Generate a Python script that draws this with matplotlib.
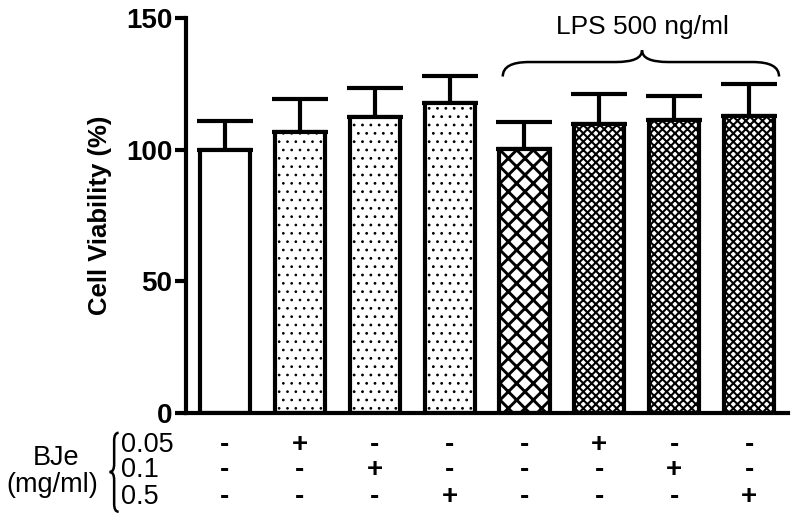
'''
Cell viability with BJe and LPS
'''
import numpy as np
import matplotlib
matplotlib.use('Agg')
import matplotlib.pyplot as plt
from matplotlib.path import Path
from matplotlib.patches import PathPatch

plt.rcParams['font.family'] = ['Liberation Sans', 'DejaVu Sans']

viability = [100, 106.7, 112.4, 117.7, 100.3, 109.8, 111.3, 112.8]
sem = [10.9, 12.6, 11.0, 10.3, 10.2, 11.4, 9.1, 12.2]
hatches = ['', '..', '..', '..', 'xx', 'xxxx', 'xxxx', 'xxxx']
hatch_widths = [1, 0.7, 0.8, 0.8, 2.1, 1.5, 1.5, 1.5]
dose_labels = ['0.05', '0.1', '0.5']
dose_signs = [
    ['-', '+', '-', '-', '-', '+', '-', '-'],
    ['-', '-', '+', '-', '-', '-', '+', '-'],
    ['-', '-', '-', '+', '-', '-', '-', '+'],
]

fig = plt.figure(figsize=(7.96, 5.19), dpi=100)
ax = fig.add_axes([0.2337, 0.2042, 0.7563, 0.761])

x = np.arange(len(viability))
bars = ax.bar(x, viability, width=0.67, color='white', edgecolor='black',
              linewidth=3, hatch=hatches, zorder=2)
for b, hw in zip(bars, hatch_widths):
    if hasattr(b, 'set_hatch_linewidth'):
        b.set_hatch_linewidth(hw)
ax.errorbar(x, viability, yerr=[np.zeros(len(sem)), sem], fmt='none',
            ecolor='black', elinewidth=3, capsize=20, capthick=3, zorder=1)

ax.set_xlim(-0.52, 7.52)
ax.set_ylim(0, 150)
ax.set_yticks([0, 50, 100, 150])
ax.set_xticks([])
for s in ['top', 'right']:
    ax.spines[s].set_visible(False)
for s in ['left', 'bottom']:
    ax.spines[s].set_linewidth(3)
ax.tick_params(axis='y', width=3, length=8, labelsize=20, pad=2)
for t in ax.get_yticklabels():
    t.set_fontweight('bold')
ax.set_ylabel('Cell Viability (%)', fontsize=18.5, fontweight='bold', labelpad=10)

# dose table under the axis
row_y = [-12.2, -21.8, -32]
for r, signs in enumerate(dose_signs):
    for i, s in enumerate(signs):
        ax.text(x[i], row_y[r], s, ha='center', va='center', fontsize=20,
                fontweight='bold', clip_on=False)
    ax.text(-1.39, row_y[r], dose_labels[r], ha='left', va='center',
            fontsize=19.5, clip_on=False)
ax.text(-2.25, -17, 'BJe', ha='center', va='center', fontsize=19.5, clip_on=False)
ax.text(-2.3, -27.5, '(mg/ml)', ha='center', va='center', fontsize=19.5, clip_on=False)

# left brace grouping the doses
cx, ytop, ybot, ymid = -1.48, -7.5, -37.5, -22.4
w = 0.06
verts = [(cx + w, ytop), (cx, ytop), (cx, ytop - 3),
         (cx, ymid + 3), (cx, ymid), (cx - w, ymid),
         (cx, ymid), (cx, ymid - 3),
         (cx, ybot + 3), (cx, ybot), (cx + w, ybot)]
codes = [Path.MOVETO, Path.CURVE3, Path.CURVE3,
         Path.LINETO, Path.CURVE3, Path.CURVE3,
         Path.CURVE3, Path.CURVE3,
         Path.LINETO, Path.CURVE3, Path.CURVE3]
ax.add_patch(PathPatch(Path(verts, codes), facecolor='none', edgecolor='black',
                       linewidth=1.8, clip_on=False))

# brace over the LPS group
bx0, bx1, by, bh = 3.71, 7.40, 133.3, 5.5
mid = 5.57
verts = [(bx0, by - bh), (bx0, by), (bx0 + 0.35, by),
         (mid - 0.35, by), (mid, by), (mid, by + 4.5),
         (mid, by), (mid + 0.35, by),
         (bx1 - 0.35, by), (bx1, by), (bx1, by - bh)]
ax.add_patch(PathPatch(Path(verts, codes), facecolor='none', edgecolor='black',
                       linewidth=1.8, clip_on=False))
ax.text(mid, 146.5, 'LPS 500 ng/ml', ha='center', va='center', fontsize=19,
        clip_on=False)

fig.savefig('out.png', dpi=100)
